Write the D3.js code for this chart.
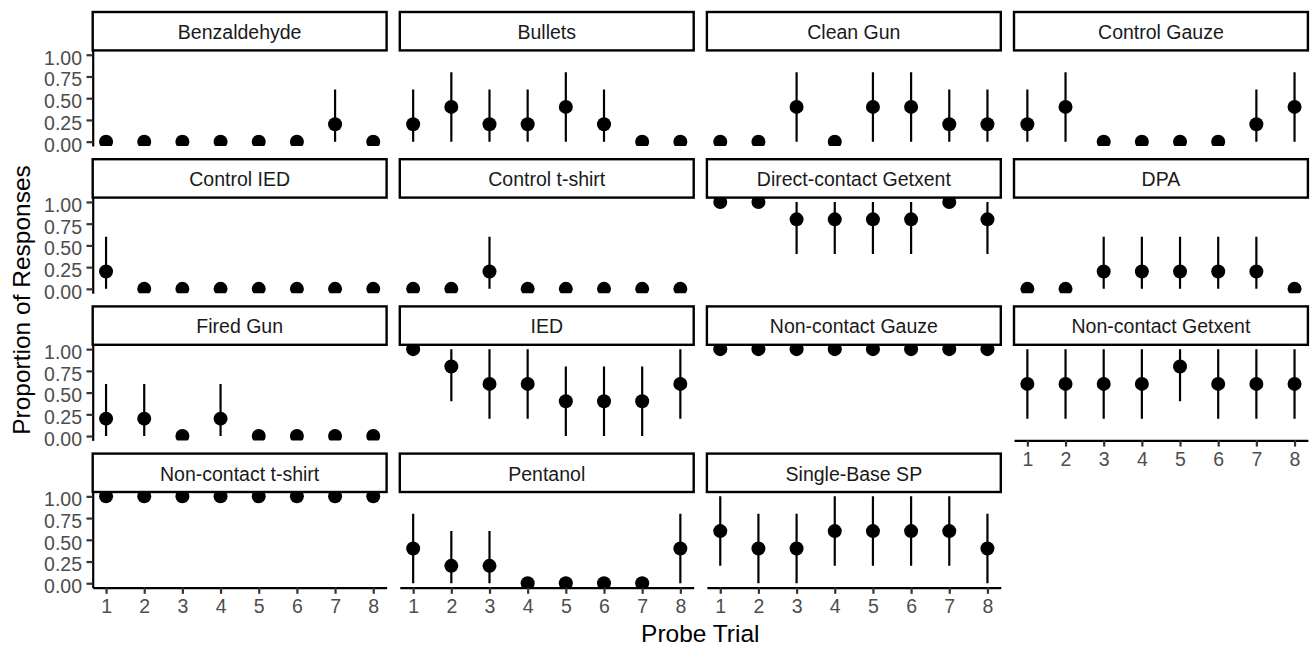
<!DOCTYPE html>
<html>

<head>
  <title>Proportion of Responses by Probe Trial</title>
  <meta charset="utf-8">
  <style>
    body {
      padding: 0;
      margin: 0;
      background: white;
      font-family: "Liberation Sans", Arial, sans-serif;
    }
    .strip rect {
      fill: white;
      stroke: black;
      stroke-width: 2.4;
    }
    .strip text {
      fill: #1a1a1a;
      font-size: 19.5px;
      text-anchor: middle;
    }
    .axis path, .axis line {
      stroke: black;
      stroke-width: 2.2;
    }
    .axis .tick line {
      stroke: #333;
    }
    .axis text {
      fill: #4d4d4d;
      font-size: 19.5px;
      font-family: "Liberation Sans", Arial, sans-serif;
    }
    .title {
      font-size: 24.5px;
      fill: black;
      text-anchor: middle;
    }
    .range {
      stroke: black;
      stroke-width: 2.2;
    }
  </style>
</head>

<body>
  <div id="chart"></div>

  <script src="https://d3js.org/d3.v7.min.js"></script>
  <script>
      // facet names, in facet_wrap order
      var facets = ["Benzaldehyde", "Bullets", "Clean Gun", "Control Gauze",
        "Control IED", "Control t-shirt", "Direct-contact Getxent", "DPA",
        "Fired Gun", "IED", "Non-contact Gauze", "Non-contact Getxent",
        "Non-contact t-shirt", "Pentanol", "Single-Base SP"]

      var trials = [1, 2, 3, 4, 5, 6, 7, 8]

      // proportion of responses per trial, one row per facet
      var props = [
        [0, 0, 0, 0, 0, 0, 0.2, 0],
        [0.2, 0.4, 0.2, 0.2, 0.4, 0.2, 0, 0],
        [0, 0, 0.4, 0, 0.4, 0.4, 0.2, 0.2],
        [0.2, 0.4, 0, 0, 0, 0, 0.2, 0.4],
        [0.2, 0, 0, 0, 0, 0, 0, 0],
        [0, 0, 0.2, 0, 0, 0, 0, 0],
        [1, 1, 0.8, 0.8, 0.8, 0.8, 1, 0.8],
        [0, 0, 0.2, 0.2, 0.2, 0.2, 0.2, 0],
        [0.2, 0.2, 0, 0.2, 0, 0, 0, 0],
        [1, 0.8, 0.6, 0.6, 0.4, 0.4, 0.4, 0.6],
        [1, 1, 1, 1, 1, 1, 1, 1],
        [0.6, 0.6, 0.6, 0.6, 0.8, 0.6, 0.6, 0.6],
        [1, 1, 1, 1, 1, 1, 1, 1],
        [0.4, 0.2, 0.2, 0, 0, 0, 0, 0.4],
        [0.6, 0.4, 0.4, 0.6, 0.6, 0.6, 0.6, 0.4]
      ]

      // lower end of the interval
      var lower = [
        [0, 0, 0, 0, 0, 0, 0, 0],
        [0, 0, 0, 0, 0, 0, 0, 0],
        [0, 0, 0, 0, 0, 0, 0, 0],
        [0, 0, 0, 0, 0, 0, 0, 0],
        [0, 0, 0, 0, 0, 0, 0, 0],
        [0, 0, 0, 0, 0, 0, 0, 0],
        [1, 1, 0.4, 0.4, 0.4, 0.4, 1, 0.4],
        [0, 0, 0, 0, 0, 0, 0, 0],
        [0, 0, 0, 0, 0, 0, 0, 0],
        [1, 0.4, 0.2, 0.2, 0, 0, 0, 0.2],
        [1, 1, 1, 1, 1, 1, 1, 1],
        [0.2, 0.2, 0.2, 0.2, 0.4, 0.2, 0.2, 0.2],
        [1, 1, 1, 1, 1, 1, 1, 1],
        [0, 0, 0, 0, 0, 0, 0, 0],
        [0.2, 0, 0, 0.2, 0.2, 0.2, 0.2, 0]
      ]

      // upper end of the interval
      var upper = [
        [0, 0, 0, 0, 0, 0, 0.6, 0],
        [0.6, 0.8, 0.6, 0.6, 0.8, 0.6, 0, 0],
        [0, 0, 0.8, 0, 0.8, 0.8, 0.6, 0.6],
        [0.6, 0.8, 0, 0, 0, 0, 0.6, 0.8],
        [0.6, 0, 0, 0, 0, 0, 0, 0],
        [0, 0, 0.6, 0, 0, 0, 0, 0],
        [1, 1, 1, 1, 1, 1, 1, 1],
        [0, 0, 0.6, 0.6, 0.6, 0.6, 0.6, 0],
        [0.6, 0.6, 0, 0.6, 0, 0, 0, 0],
        [1, 1, 1, 1, 0.8, 0.8, 0.8, 1],
        [1, 1, 1, 1, 1, 1, 1, 1],
        [1, 1, 1, 1, 1, 1, 1, 1],
        [1, 1, 1, 1, 1, 1, 1, 1],
        [0.8, 0.6, 0.6, 0, 0, 0, 0, 0.8],
        [1, 0.8, 0.8, 1, 1, 1, 1, 0.8]
      ]

      var yTicks = [0, 0.25, 0.5, 0.75, 1]

      var width = 1312,
        height = 647

      // facet grid layout
      var ncol = 4,
        gridLeft = 92.7,
        gridTop = 12,
        gap = 13.2,
        stripH = 38.4,
        panelW = 293.9,
        panelH = 95.6

      var svg = d3.select("#chart")
        .append("svg")
        .attr("width", width)
        .attr("height", height)

      // continuous scales with ggplot's 5% expansion
      var x = d3.scaleLinear().domain([1 - 0.35, 8 + 0.35]).range([0, panelW])
      var y = d3.scaleLinear().domain([-0.05, 1.05]).range([panelH, 0])

      var nrowLast = Math.ceil(facets.length / ncol) - 1

      facets.forEach(function (name, i) {
        var col = i % ncol,
          row = Math.floor(i / ncol)
        var px = gridLeft + col * (panelW + gap),
          sy = gridTop + row * (stripH + panelH + gap),
          py = sy + stripH

        var data = trials.map(function (t, j) {
          return { trial: t, p: props[i][j], lo: lower[i][j], hi: upper[i][j] }
        })

        var g = svg.append("g")
          .attr("transform", "translate(" + px + "," + py + ")")

        // clip marks to the panel
        svg.append("clipPath")
          .attr("id", "clip" + i)
          .append("rect")
          .attr("x", px)
          .attr("y", py)
          .attr("width", panelW)
          .attr("height", panelH)

        var marks = svg.append("g")
          .attr("clip-path", "url(#clip" + i + ")")
          .append("g")
          .attr("transform", "translate(" + px + "," + py + ")")

        marks.selectAll("line")
          .data(data.filter(function (d) { return d.hi > d.lo }))
          .enter().append("line")
          .attr("class", "range")
          .attr("x1", function (d) { return x(d.trial) })
          .attr("x2", function (d) { return x(d.trial) })
          .attr("y1", function (d) { return y(d.lo) })
          .attr("y2", function (d) { return y(d.hi) })

        marks.selectAll("circle")
          .data(data)
          .enter().append("circle")
          .attr("cx", function (d) { return x(d.trial) })
          .attr("cy", function (d) { return y(d.p) })
          .attr("r", 7)
          .attr("fill", "black")

        // y axis on the first column only
        if (col === 0) {
          g.append("g")
            .attr("class", "axis")
            .call(d3.axisLeft(y).tickValues(yTicks).tickFormat(d3.format(".2f")).tickSize(6.2).tickPadding(4.5).tickSizeOuter(0))
            .selectAll("text")
            .attr("dy", "0.48em")
        }

        // x axis where no panel sits below
        var below = i + ncol
        if (row === nrowLast || below >= facets.length) {
          g.append("g")
            .attr("class", "axis")
            .attr("transform", "translate(0," + panelH + ")")
            .call(d3.axisBottom(x).tickValues(trials).tickFormat(d3.format("d")).tickSize(6.2).tickPadding(5.5).tickSizeOuter(0))
        }

        // strip label
        var strip = svg.append("g")
          .attr("class", "strip")
          .attr("transform", "translate(" + px + "," + sy + ")")
        strip.append("rect")
          .attr("width", panelW)
          .attr("height", stripH)
        strip.append("text")
          .attr("x", panelW / 2)
          .attr("y", stripH / 2)
          .attr("dy", "0.4em")
          .text(name)
      })

      // axis titles
      var areaMid = gridLeft + (ncol * panelW + (ncol - 1) * gap) / 2
      svg.append("text")
        .attr("class", "title")
        .attr("x", areaMid)
        .attr("y", 642)
        .text("Probe Trial")

      svg.append("text")
        .attr("class", "title")
        .attr("transform", "translate(30," + 300 + ") rotate(-90)")
        .text("Proportion of Responses")
  </script>
</body>

</html>
